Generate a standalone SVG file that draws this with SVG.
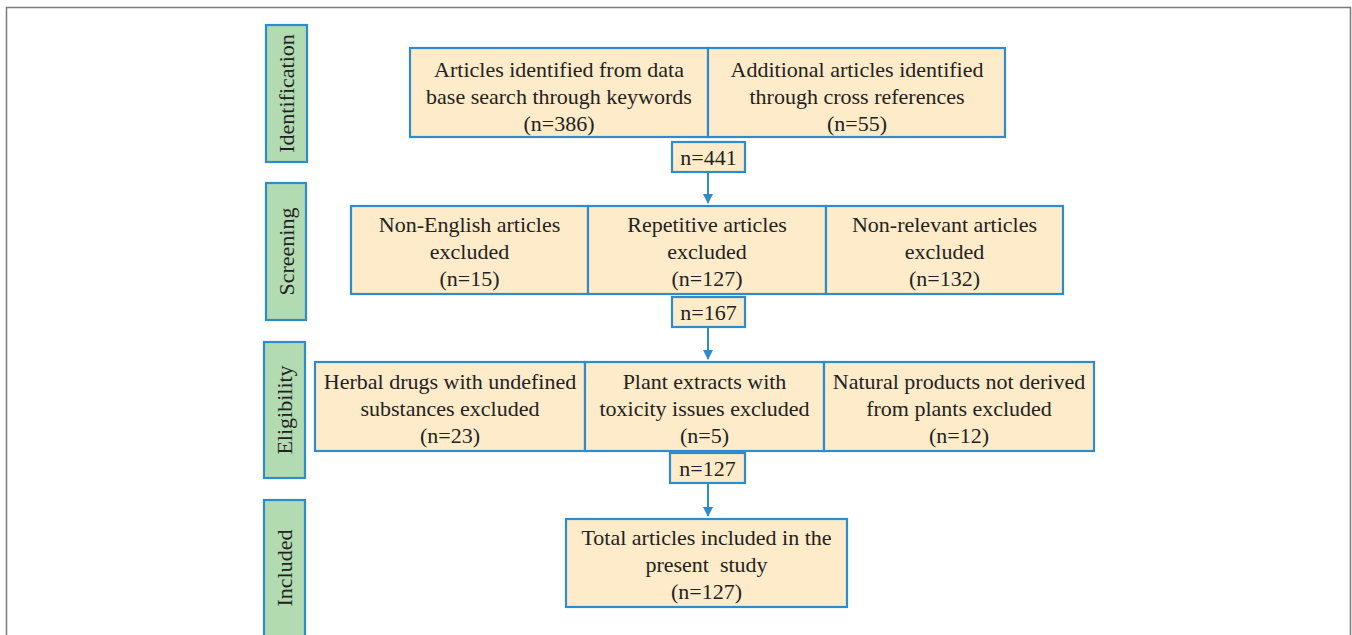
<svg xmlns="http://www.w3.org/2000/svg" width="1352" height="635" viewBox="0 0 1352 635">
<defs>
<style>
.frame{fill:#fff;stroke:#7a7a7a;stroke-width:1.5}
.box{fill:#fdebc9;stroke:#2f8ccc;stroke-width:2.2}
.lab{fill:#b3dbb1;stroke:#2f8ccc;stroke-width:2.2}
.t{font-family:"Liberation Serif","Times New Roman",serif;font-size:22px;fill:#222;text-anchor:middle}
.vt{font-family:"Liberation Serif","Times New Roman",serif;font-size:22px;fill:#222;text-anchor:middle}
.conn{stroke:#2f8ccc;stroke-width:2;fill:none}
</style>
<marker id="ah" viewBox="0 0 10 10" refX="9" refY="5" markerWidth="5" markerHeight="5" orient="auto">
<path d="M0,0 L10,5 L0,10 z" fill="#2f8ccc"/>
</marker>
</defs>
<rect x="0" y="0" width="1352" height="635" fill="#fff"/>
<rect class="frame" x="6.5" y="7.5" width="1344" height="640"/>

<g id="lab-identification"><rect class="lab" x="266" y="25" width="41" height="137"/><text class="vt" transform="translate(294,93.5) rotate(-90)">Identification</text></g>
<g id="lab-screening"><rect class="lab" x="266" y="183" width="40" height="137"/><text class="vt" transform="translate(294,251.5) rotate(-90)">Screening</text></g>
<g id="lab-eligibility"><rect class="lab" x="264" y="342" width="41" height="136"/><text class="vt" transform="translate(292,410) rotate(-90)">Eligibility</text></g>
<g id="lab-included"><rect class="lab" x="264" y="500" width="41" height="145"/><text class="vt" transform="translate(292,568) rotate(-90)">Included</text></g>

<g id="connectors">
<line class="conn" x1="708" y1="172" x2="708" y2="203" marker-end="url(#ah)"/>
<line class="conn" x1="708" y1="327" x2="708" y2="359" marker-end="url(#ah)"/>
<line class="conn" x1="708" y1="483" x2="708" y2="516" marker-end="url(#ah)"/>
</g>

<g id="n-db"><rect class="box" x="410" y="48" width="298" height="89"/><text class="t" x="559" y="77">Articles identified from data</text><text class="t" x="559" y="104">base search through keywords</text><text class="t" x="559" y="131">(n=386)</text></g>
<g id="n-cross"><rect class="box" x="708" y="48" width="297" height="89"/><text class="t" x="857" y="77">Additional articles identified</text><text class="t" x="857" y="104">through cross references</text><text class="t" x="857" y="131">(n=55)</text></g>
<g id="n-441"><rect class="box" x="672" y="142" width="73" height="30"/><text class="t" x="708.5" y="165">n=441</text></g>

<g id="n-nonenglish"><rect class="box" x="351" y="206" width="237" height="88"/><text class="t" x="469.5" y="232">Non-English articles</text><text class="t" x="469.5" y="259">excluded</text><text class="t" x="469.5" y="286">(n=15)</text></g>
<g id="n-repetitive"><rect class="box" x="588" y="206" width="238" height="88"/><text class="t" x="707" y="232">Repetitive articles</text><text class="t" x="707" y="259">excluded</text><text class="t" x="707" y="286">(n=127)</text></g>
<g id="n-nonrelevant"><rect class="box" x="826" y="206" width="237" height="88"/><text class="t" x="944.5" y="232">Non-relevant articles</text><text class="t" x="944.5" y="259">excluded</text><text class="t" x="944.5" y="286">(n=132)</text></g>
<g id="n-167"><rect class="box" x="672" y="297" width="73" height="30"/><text class="t" x="708.5" y="320">n=167</text></g>

<g id="n-herbal"><rect class="box" x="315" y="362" width="270" height="89"/><text class="t" x="450" y="389">Herbal drugs with undefined</text><text class="t" x="450" y="416">substances excluded</text><text class="t" x="450" y="443">(n=23)</text></g>
<g id="n-plant"><rect class="box" x="585" y="362" width="239" height="89"/><text class="t" x="704.5" y="389">Plant extracts with</text><text class="t" x="704.5" y="416">toxicity issues excluded</text><text class="t" x="704.5" y="443">(n=5)</text></g>
<g id="n-natural"><rect class="box" x="824" y="362" width="270" height="89"/><text class="t" x="959" y="389">Natural products not derived</text><text class="t" x="959" y="416">from plants excluded</text><text class="t" x="959" y="443">(n=12)</text></g>
<g id="n-127"><rect class="box" x="670" y="453" width="75" height="30"/><text class="t" x="707.5" y="476">n=127</text></g>

<g id="n-total"><rect class="box" x="566" y="519" width="281" height="88"/><text class="t" x="706.5" y="545">Total articles included in the</text><text class="t" x="706.5" y="572" xml:space="preserve">present  study</text><text class="t" x="706.5" y="599">(n=127)</text></g>
</svg>
